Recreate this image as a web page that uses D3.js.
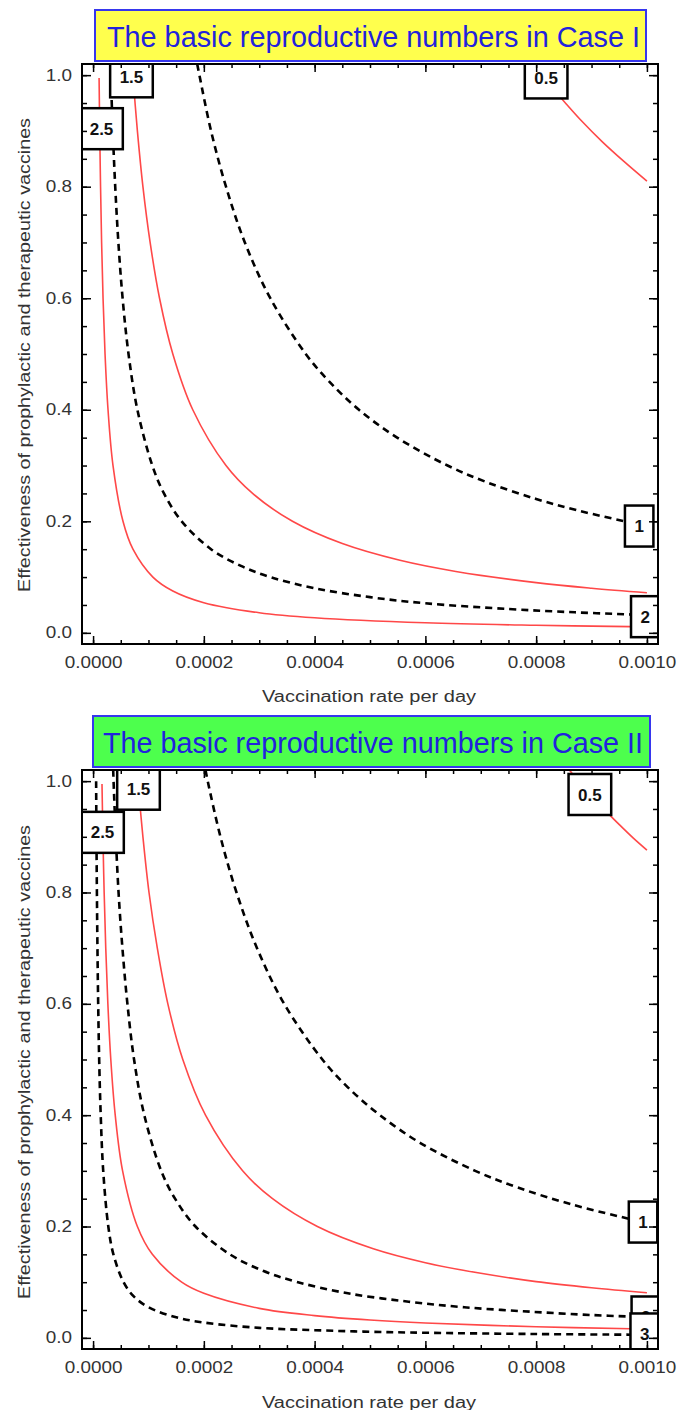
<!DOCTYPE html>
<html>
<head>
<meta charset="utf-8">
<script src="https://cdn.jsdelivr.net/npm/d3@7"></script>
<style>
  body { margin: 0; background: #fff; }
  svg { display: block; font-family: "Liberation Sans", Arial, sans-serif; }
</style>
</head>
<body>
<div class="chart-wrapper"></div>
<script>
// tick values
const xTicks = [0, 0.0002, 0.0004, 0.0006, 0.0008, 0.0010];
const yTicks = [0, 0.2, 0.4, 0.6, 0.8, 1.0];
const xMinorTicks = d3.range(0, 0.00100001, 0.00005);
const yMinorTicks = d3.range(0, 1.00001, 0.05);

// contour lines, [vaccination rate, effectiveness]
const case1R05 = [[0.000794, 1.02], [0.00082, 0.988], [0.000852, 0.951], [0.00088, 0.920], [0.00092, 0.880], [0.00096, 0.844], [0.001, 0.810]];
const case1R1 = [[0.000188, 1.02], [0.000192, 1.0], [0.000213, 0.9], [0.00024, 0.8], [0.000274, 0.7], [0.00032, 0.6], [0.000384, 0.5], [0.000427, 0.45], [0.00048, 0.4], [0.000549, 0.35], [0.00064, 0.3], [0.000711, 0.27], [0.0008, 0.24], [0.000873, 0.22], [0.00096, 0.2]];
const case1R15 = [[0.0000706, 1.02], [0.000072, 1.0], [0.0000754, 0.955], [0.00008, 0.9], [0.00009, 0.8], [0.000103, 0.7], [0.00012, 0.6], [0.000144, 0.5], [0.00018, 0.4], [0.00024, 0.3], [0.000288, 0.25], [0.00036, 0.2], [0.00045, 0.16], [0.000554, 0.13], [0.000655, 0.11], [0.0008, 0.09], [0.0009, 0.08], [0.001, 0.072]];
const case1R2 = [[0.0000314, 1.02], [0.000032, 1.0], [0.0000356, 0.9], [0.00004, 0.8], [0.0000457, 0.7], [0.0000533, 0.6], [0.000064, 0.5], [0.00008, 0.4], [0.000107, 0.3], [0.000128, 0.25], [0.00016, 0.2], [0.000213, 0.15], [0.000267, 0.12], [0.00032, 0.1], [0.0004, 0.08], [0.0005, 0.064], [0.0006, 0.053], [0.00075, 0.0427], [0.00087, 0.0368], [0.00097, 0.033]];
const case1R25 = [[0.00001085, 0.995], [0.000012, 0.9], [0.0000135, 0.8], [0.0000154, 0.7], [0.000018, 0.6], [0.0000216, 0.5], [0.000027, 0.4], [0.000036, 0.3], [0.000054, 0.2], [0.000072, 0.15], [0.000108, 0.1], [0.000144, 0.075], [0.0002, 0.054], [0.0003, 0.036], [0.0004, 0.027], [0.0006, 0.018], [0.0008, 0.0135], [0.00097, 0.0111]];

const case2R05 = [[0.00086, 1.02], [0.000885, 0.99], [0.000933, 0.939], [0.00095, 0.922], [0.000975, 0.898], [0.001, 0.876]];
const case2R1 = [[0.000203, 1.02], [0.000207, 1.0], [0.00023, 0.9], [0.000259, 0.8], [0.000296, 0.7], [0.000345, 0.6], [0.000414, 0.5], [0.00046, 0.45], [0.000518, 0.4], [0.000591, 0.35], [0.00069, 0.3], [0.000767, 0.27], [0.000863, 0.24], [0.000967, 0.214]];
const case2R15 = [[0.0000794, 1.02], [0.000081, 1.0], [0.0000853, 0.95], [0.00009, 0.9], [0.000101, 0.8], [0.000116, 0.7], [0.000135, 0.6], [0.000162, 0.5], [0.000203, 0.4], [0.00027, 0.3], [0.000324, 0.25], [0.000405, 0.2], [0.000506, 0.16], [0.0006, 0.135], [0.0007, 0.116], [0.0008, 0.101], [0.0009, 0.09], [0.001, 0.081]];
const case2R2 = [[0.0000363, 1.02], [0.000037, 1.0], [0.000041, 0.9], [0.000046, 0.8], [0.000053, 0.7], [0.000062, 0.6], [0.000074, 0.5], [0.0000925, 0.4], [0.000123, 0.3], [0.000148, 0.25], [0.000185, 0.2], [0.000247, 0.15], [0.000308, 0.12], [0.00037, 0.1], [0.00046, 0.08], [0.00057, 0.065], [0.00067, 0.055], [0.00079, 0.047], [0.0009, 0.041], [0.00098, 0.038]];
const case2R25 = [[0.0000161, 0.995], [0.0000178, 0.9], [0.00002, 0.8], [0.0000229, 0.7], [0.0000267, 0.6], [0.000032, 0.5], [0.00004, 0.4], [0.0000533, 0.3], [0.00008, 0.2], [0.000107, 0.15], [0.00016, 0.1], [0.0002, 0.08], [0.0003, 0.053], [0.0004, 0.04], [0.0005, 0.032], [0.0006, 0.0267], [0.0008, 0.02], [0.00097, 0.0165]];
const case2R3 = [[0.0000055, 1.0], [0.0000061, 0.9], [0.0000069, 0.8], [0.0000079, 0.7], [0.0000092, 0.6], [0.000011, 0.5], [0.0000138, 0.4], [0.0000183, 0.3], [0.0000275, 0.2], [0.0000367, 0.15], [0.000055, 0.1], [0.000073, 0.075], [0.0001, 0.055], [0.00015, 0.037], [0.0002, 0.0275], [0.0003, 0.018], [0.0004, 0.0138], [0.0005, 0.011], [0.0006, 0.0092], [0.0008, 0.0069], [0.00097, 0.0057]];

// contour labels: text and where the box sits, [vaccination rate, effectiveness]
const case1Labels = [["1.5", 0.0000693, 0.997], ["2.5", 0.0000152, 0.904], ["0.5", 0.000818, 0.995], ["1", 0.000986, 0.1915], ["2", 0.000997, 0.029]];
const case2Labels = [["1.5", 0.000082, 0.9855], ["2.5", 0.000017, 0.908], ["0.5", 0.000897, 0.976], ["1", 0.000993, 0.208], ["2", 0.000998, 0.0375], ["3", 0.000996, 0.007]];

const xTitle = "Vaccination rate per day";
const yTitle = "Effectiveness of prophylactic  and therapeutic vaccines";

const panels = [
  {
    title: "The basic reproductive numbers in Case I",
    fill: "#ffff4d",
    top: 64, bottom: 644,
    titleBox: { x: 95, y: 10, w: 551, h: 51, textX: 107, baseline: 47, textLength: 533 },
    curves: [
      { points: case1R05, dashed: false },
      { points: case1R1, dashed: true },
      { points: case1R15, dashed: false },
      { points: case1R2, dashed: true },
      { points: case1R25, dashed: false }
    ],
    labels: case1Labels,
    xTitleY: 702, yTitleY: 355
  },
  {
    title: "The basic reproductive numbers in Case II",
    fill: "#4dff4d",
    top: 770, bottom: 1349,
    titleBox: { x: 93, y: 716, w: 557, h: 51, textX: 103, baseline: 753, textLength: 540 },
    curves: [
      { points: case2R05, dashed: false },
      { points: case2R1, dashed: true },
      { points: case2R15, dashed: false },
      { points: case2R2, dashed: true },
      { points: case2R25, dashed: false },
      { points: case2R3, dashed: true }
    ],
    labels: case2Labels,
    xTitleY: 1408, yTitleY: 1062
  }
];

const width = 690, height = 1410;
const frameLeft = 82, frameRight = 658;
const textStretch = 1.18;

const svg = d3.select(".chart-wrapper")
  .append("svg")
  .attr("width", width)
  .attr("height", height);

const x = d3.scaleLinear().domain([-0.00002, 0.00102]).range([frameLeft, frameRight]);

panels.forEach((p, i) => drawPanel(p, i));

/**
 * Draw one contour panel
 **/
function drawPanel(p, i) {
  const y = d3.scaleLinear().domain([-0.02, 1.02]).range([p.bottom, p.top]);
  const g = svg.append("g").attr("class", "panel");

  // title box
  g.append("rect")
    .attr("x", p.titleBox.x)
    .attr("y", p.titleBox.y)
    .attr("width", p.titleBox.w)
    .attr("height", p.titleBox.h)
    .style("fill", p.fill)
    .style("stroke", "#3636ee")
    .style("stroke-width", 2);
  g.append("text")
    .attr("x", p.titleBox.textX)
    .attr("y", p.titleBox.baseline)
    .attr("textLength", p.titleBox.textLength)
    .attr("lengthAdjust", "spacingAndGlyphs")
    .style("font-size", "29px")
    .style("fill", "#2222dd")
    .text(p.title);

  // clip everything inside the frame
  const clipId = "clip-" + i;
  g.append("clipPath").attr("id", clipId)
    .append("rect")
    .attr("x", frameLeft)
    .attr("y", p.top)
    .attr("width", frameRight - frameLeft)
    .attr("height", p.bottom - p.top);

  const plot = g.append("g").attr("clip-path", `url(#${clipId})`);

  const line = d3.line()
    .x(d => x(d[0]))
    .y(d => y(d[1]))
    .curve(d3.curveCatmullRom.alpha(0.5));

  plot.selectAll(".contour")
    .data(p.curves)
    .enter()
    .append("path")
    .attr("class", "contour")
    .attr("d", d => line(d.points))
    .style("fill", "none")
    .style("stroke", d => d.dashed ? "#000" : "#ff4848")
    .style("stroke-width", d => d.dashed ? 2.6 : 1.6)
    .style("stroke-dasharray", d => d.dashed ? "7,5" : null);

  // label boxes
  p.labels.forEach(([txt, lx, ly]) => {
    const lg = plot.append("g")
      .attr("transform", `translate(${x(lx)},${y(ly)})`);
    const box = lg.append("rect");
    const t = lg.append("text")
      .attr("text-anchor", "middle")
      .attr("dy", "0.36em")
      .style("font-size", "17px")
      .style("font-weight", "bold")
      .style("fill", "#111")
      .text(txt);
    const w = t.node().getComputedTextLength() + 19;
    box.attr("x", -w / 2)
      .attr("y", -20.5)
      .attr("width", w)
      .attr("height", 41)
      .style("fill", "#fff")
      .style("stroke", "#000")
      .style("stroke-width", 2.5);
  });

  // axes, all ticks point inward
  const styleAxis = (sel, withText) => {
    sel.select(".domain").remove();
    sel.selectAll(".tick line").style("stroke", "#000").style("stroke-width", 1.5);
    if (withText) {
      sel.selectAll(".tick text")
        .style("font-size", "16px")
        .style("fill", "#333")
        .attr("transform", `scale(${textStretch},1)`);
    }
  };

  g.append("g")
    .attr("transform", `translate(0,${p.bottom})`)
    .call(d3.axisBottom(x).tickValues(xMinorTicks).tickSize(-4).tickFormat(""))
    .call(sel => styleAxis(sel, false));
  g.append("g")
    .attr("transform", `translate(0,${p.bottom})`)
    .call(d3.axisBottom(x).tickValues(xTicks).tickSize(-8).tickPadding(13).tickFormat(d3.format(".4f")))
    .call(sel => styleAxis(sel, true))
    .attr("font-family", null);

  g.append("g")
    .attr("transform", `translate(0,${p.top})`)
    .call(d3.axisTop(x).tickValues(xMinorTicks).tickSize(-4).tickFormat(""))
    .call(sel => styleAxis(sel, false));
  g.append("g")
    .attr("transform", `translate(0,${p.top})`)
    .call(d3.axisTop(x).tickValues(xTicks).tickSize(-8).tickFormat(""))
    .call(sel => styleAxis(sel, false));

  g.append("g")
    .attr("transform", `translate(${frameLeft},0)`)
    .call(d3.axisLeft(y).tickValues(yMinorTicks).tickSize(-5).tickFormat(""))
    .call(sel => styleAxis(sel, false));
  g.append("g")
    .attr("transform", `translate(${frameLeft},0)`)
    .call(d3.axisLeft(y).tickValues(yTicks).tickSize(-9).tickPadding(8.5).tickFormat(d3.format(".1f")))
    .call(sel => styleAxis(sel, true))
    .attr("font-family", null);

  g.append("g")
    .attr("transform", `translate(${frameRight},0)`)
    .call(d3.axisRight(y).tickValues(yMinorTicks).tickSize(-5).tickFormat(""))
    .call(sel => styleAxis(sel, false));
  g.append("g")
    .attr("transform", `translate(${frameRight},0)`)
    .call(d3.axisRight(y).tickValues(yTicks).tickSize(-9).tickFormat(""))
    .call(sel => styleAxis(sel, false));

  // frame
  g.append("rect")
    .attr("x", frameLeft)
    .attr("y", p.top)
    .attr("width", frameRight - frameLeft)
    .attr("height", p.bottom - p.top)
    .style("fill", "none")
    .style("stroke", "#000")
    .style("stroke-width", 2);

  // axis titles
  g.append("text")
    .attr("x", 369)
    .attr("y", p.xTitleY)
    .attr("text-anchor", "middle")
    .attr("textLength", 214)
    .attr("lengthAdjust", "spacingAndGlyphs")
    .style("font-size", "16px")
    .style("fill", "#333")
    .text(xTitle);

  g.append("text")
    .attr("transform", `translate(30,${p.yTitleY}) rotate(-90)`)
    .attr("text-anchor", "middle")
    .attr("textLength", 474)
    .attr("lengthAdjust", "spacingAndGlyphs")
    .style("font-size", "16px")
    .style("fill", "#333")
    .text(yTitle);
}
</script>
</body>
</html>
